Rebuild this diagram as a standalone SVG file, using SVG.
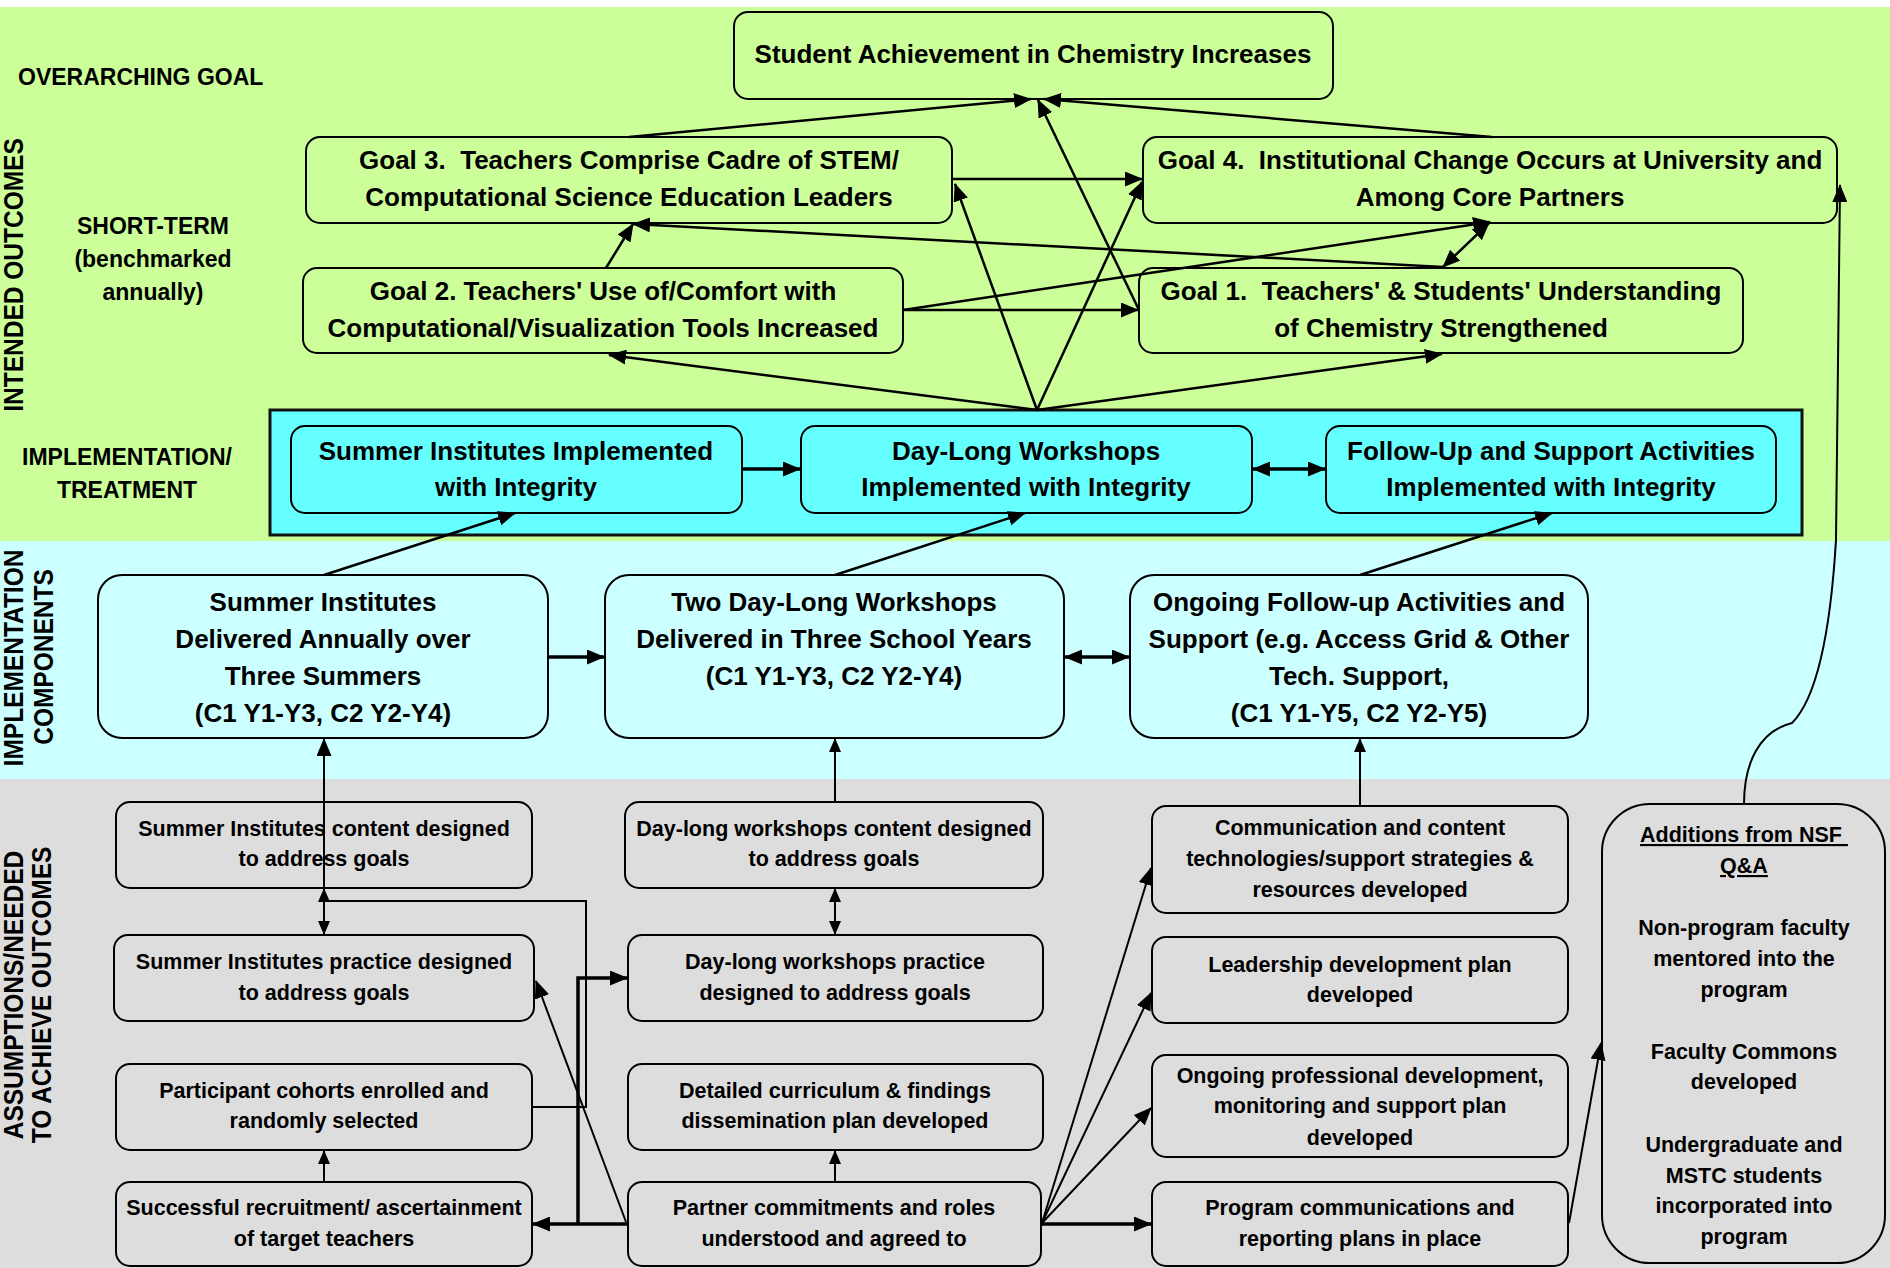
<svg xmlns="http://www.w3.org/2000/svg" width="1890" height="1268" viewBox="0 0 1890 1268">
<defs>
<style>
.t{font-family:"Liberation Sans",Arial,sans-serif;font-weight:bold;fill:#000}
.big{font-size:26px;text-anchor:middle}
.sm{font-size:21.5px;text-anchor:middle}
.lbl{font-size:23px}
.mid{text-anchor:middle}
.vl{font-size:24.5px;text-anchor:middle}
.box{stroke:#000;stroke-width:2}
.gf{fill:#CCFF99}
.cf{fill:#CCFFFF}
.tf{fill:#66FFFF}
.sf{fill:#DDDDDD}
.ln{fill:none;stroke:#000;stroke-width:2.5}
.thin{fill:none;stroke:#000;stroke-width:2}
.thick{fill:none;stroke:#000;stroke-width:3.5}
.a{marker-end:url(#ah)}
.d{marker-start:url(#ah);marker-end:url(#ah)}
.as{marker-end:url(#ahs)}
.ds{marker-start:url(#ahs);marker-end:url(#ahs)}
</style>
<marker id="ah" markerUnits="userSpaceOnUse" markerWidth="18" markerHeight="15" refX="17" refY="7.5" orient="auto-start-reverse" viewBox="0 0 18 15">
<path d="M0,0 L18,7.5 L0,15 z" fill="#000"/>
</marker>
<marker id="ahs" markerUnits="userSpaceOnUse" markerWidth="14" markerHeight="12" refX="13" refY="6" orient="auto-start-reverse" viewBox="0 0 14 12">
<path d="M0,0 L14,6 L0,12 z" fill="#000"/>
</marker>
</defs>

<g id="bands">
<rect x="0" y="0" width="1890" height="1268" fill="#FFFFFF"/>
<rect x="0" y="7" width="1890" height="534" class="gf"/>
<rect x="0" y="541" width="1890" height="238" class="cf"/>
<rect x="0" y="779" width="1890" height="489" class="sf"/>
</g>

<g id="labels">
<text class="t lbl" x="18" y="85">OVERARCHING GOAL</text>
<text class="t lbl mid" x="153" y="234">SHORT-TERM</text>
<text class="t lbl mid" x="153" y="267">(benchmarked</text>
<text class="t lbl mid" x="153" y="300">annually)</text>
<text class="t lbl mid" x="127" y="465">IMPLEMENTATION/</text>
<text class="t lbl mid" x="127" y="498">TREATMENT</text>
<text class="t vl" transform="translate(23,275) rotate(-90) scale(1,1.14)">INTENDED OUTCOMES</text>
<text class="t vl" transform="translate(23,658) rotate(-90) scale(1,1.14)">IMPLEMENTATION</text>
<text class="t vl" transform="translate(53,657) rotate(-90) scale(1,1.14)">COMPONENTS</text>
<text class="t vl" transform="translate(23,995) rotate(-90) scale(1,1.14)">ASSUMPTIONS/NEEDED</text>
<text class="t vl" transform="translate(51,995) rotate(-90) scale(1,1.14)">TO ACHIEVE OUTCOMES</text>
</g>

<g id="treatment-container">
<rect x="270" y="410" width="1532" height="125" class="tf" stroke="#111" stroke-width="3"/>
</g>

<g id="n-student-achievement">
<rect x="734" y="12" width="599" height="87" rx="14" class="box gf"/>
<text class="t big" x="1033" y="63">Student Achievement in Chemistry Increases</text>
</g>
<g id="n-goal3">
<rect x="306" y="137" width="646" height="86" rx="14" class="box gf"/>
<text class="t big" x="629" y="169">Goal 3.&#160; Teachers Comprise Cadre of STEM/</text>
<text class="t big" x="629" y="206">Computational Science Education Leaders</text>
</g>
<g id="n-goal4">
<rect x="1143" y="137" width="694" height="86" rx="14" class="box gf"/>
<text class="t big" x="1490" y="169">Goal 4.&#160; Institutional Change Occurs at University and</text>
<text class="t big" x="1490" y="206">Among Core Partners</text>
</g>
<g id="n-goal2">
<rect x="303" y="268" width="600" height="85" rx="14" class="box gf"/>
<text class="t big" x="603" y="300">Goal 2. Teachers' Use of/Comfort with</text>
<text class="t big" x="603" y="337">Computational/Visualization Tools Increased</text>
</g>
<g id="n-goal1">
<rect x="1139" y="268" width="604" height="85" rx="14" class="box gf"/>
<text class="t big" x="1441" y="300">Goal 1.&#160; Teachers' &amp; Students' Understanding</text>
<text class="t big" x="1441" y="337">of Chemistry Strengthened</text>
</g>

<g id="n-si-implemented">
<rect x="291" y="426" width="451" height="87" rx="14" class="box tf"/>
<text class="t big" x="516" y="460">Summer Institutes Implemented</text>
<text class="t big" x="516" y="496">with Integrity</text>
</g>
<g id="n-dl-implemented">
<rect x="801" y="426" width="451" height="87" rx="14" class="box tf"/>
<text class="t big" x="1026" y="460">Day-Long Workshops</text>
<text class="t big" x="1026" y="496">Implemented with Integrity</text>
</g>
<g id="n-fu-implemented">
<rect x="1326" y="426" width="450" height="87" rx="14" class="box tf"/>
<text class="t big" x="1551" y="460">Follow-Up and Support Activities</text>
<text class="t big" x="1551" y="496">Implemented with Integrity</text>
</g>

<g id="n-si-delivered">
<rect x="98" y="575" width="450" height="163" rx="24" class="box cf"/>
<text class="t big" x="323" y="611">Summer Institutes</text>
<text class="t big" x="323" y="648">Delivered Annually over</text>
<text class="t big" x="323" y="685">Three Summers</text>
<text class="t big" x="323" y="722">(C1 Y1-Y3, C2 Y2-Y4)</text>
</g>
<g id="n-dl-delivered">
<rect x="605" y="575" width="459" height="163" rx="24" class="box cf"/>
<text class="t big" x="834" y="611">Two Day-Long Workshops</text>
<text class="t big" x="834" y="648">Delivered in Three School Years</text>
<text class="t big" x="834" y="685">(C1 Y1-Y3, C2 Y2-Y4)</text>
</g>
<g id="n-fu-delivered">
<rect x="1130" y="575" width="458" height="163" rx="24" class="box cf"/>
<text class="t big" x="1359" y="611">Ongoing Follow-up Activities and</text>
<text class="t big" x="1359" y="648">Support (e.g. Access Grid &amp; Other</text>
<text class="t big" x="1359" y="685">Tech. Support,</text>
<text class="t big" x="1359" y="722">(C1 Y1-Y5, C2 Y2-Y5)</text>
</g>

<g id="n-si-content">
<rect x="116" y="802" width="416" height="86" rx="14" class="box sf"/>
<text class="t sm" x="324" y="836">Summer Institutes content designed</text>
<text class="t sm" x="324" y="866">to address goals</text>
</g>
<g id="n-si-practice">
<rect x="114" y="935" width="420" height="86" rx="14" class="box sf"/>
<text class="t sm" x="324" y="969">Summer Institutes practice designed</text>
<text class="t sm" x="324" y="1000">to address goals</text>
</g>
<g id="n-cohorts">
<rect x="116" y="1064" width="416" height="86" rx="14" class="box sf"/>
<text class="t sm" x="324" y="1098">Participant cohorts enrolled and</text>
<text class="t sm" x="324" y="1128">randomly selected</text>
</g>
<g id="n-recruitment">
<rect x="116" y="1182" width="416" height="84" rx="14" class="box sf"/>
<text class="t sm" x="324" y="1215">Successful recruitment/ ascertainment</text>
<text class="t sm" x="324" y="1246">of target teachers</text>
</g>

<g id="n-dl-content">
<rect x="625" y="802" width="418" height="86" rx="14" class="box sf"/>
<text class="t sm" x="834" y="836">Day-long workshops content designed</text>
<text class="t sm" x="834" y="866">to address goals</text>
</g>
<g id="n-dl-practice">
<rect x="628" y="935" width="415" height="86" rx="14" class="box sf"/>
<text class="t sm" x="835" y="969">Day-long workshops practice</text>
<text class="t sm" x="835" y="1000">designed to address goals</text>
</g>
<g id="n-curriculum">
<rect x="628" y="1064" width="415" height="86" rx="14" class="box sf"/>
<text class="t sm" x="835" y="1098">Detailed curriculum &amp; findings</text>
<text class="t sm" x="835" y="1128">dissemination plan developed</text>
</g>
<g id="n-partner">
<rect x="628" y="1182" width="413" height="84" rx="14" class="box sf"/>
<text class="t sm" x="834" y="1215">Partner commitments and roles</text>
<text class="t sm" x="834" y="1246">understood and agreed to</text>
</g>

<g id="n-communication">
<rect x="1152" y="806" width="416" height="107" rx="14" class="box sf"/>
<text class="t sm" x="1360" y="835">Communication and content</text>
<text class="t sm" x="1360" y="866">technologies/support strategies &amp;</text>
<text class="t sm" x="1360" y="897">resources developed</text>
</g>
<g id="n-leadership">
<rect x="1152" y="937" width="416" height="86" rx="14" class="box sf"/>
<text class="t sm" x="1360" y="972">Leadership development plan</text>
<text class="t sm" x="1360" y="1002">developed</text>
</g>
<g id="n-prof-dev">
<rect x="1152" y="1055" width="416" height="102" rx="14" class="box sf"/>
<text class="t sm" x="1360" y="1083">Ongoing professional development,</text>
<text class="t sm" x="1360" y="1113">monitoring and support plan</text>
<text class="t sm" x="1360" y="1145">developed</text>
</g>
<g id="n-program-comm">
<rect x="1152" y="1182" width="416" height="84" rx="14" class="box sf"/>
<text class="t sm" x="1360" y="1215">Program communications and</text>
<text class="t sm" x="1360" y="1246">reporting plans in place</text>
</g>

<g id="n-nsf-additions">
<rect x="1602" y="804" width="283" height="459" rx="48" class="box sf"/>
<text class="t sm" x="1744" y="842" text-decoration="underline">Additions from NSF&#160;</text>
<text class="t sm" x="1744" y="873" text-decoration="underline">Q&amp;A</text>
<text class="t sm" x="1744" y="935">Non-program faculty</text>
<text class="t sm" x="1744" y="966">mentored into the</text>
<text class="t sm" x="1744" y="997">program</text>
<text class="t sm" x="1744" y="1059">Faculty Commons</text>
<text class="t sm" x="1744" y="1089">developed</text>
<text class="t sm" x="1744" y="1152">Undergraduate and</text>
<text class="t sm" x="1744" y="1183">MSTC students</text>
<text class="t sm" x="1744" y="1213">incorporated into</text>
<text class="t sm" x="1744" y="1244">program</text>
</g>

<g id="connectors">
<line class="ln a" x1="629" y1="137" x2="1031" y2="99"/>
<line class="ln a" x1="1492" y1="137" x2="1044" y2="99"/>
<line class="ln a" x1="1139" y1="310" x2="1038" y2="100"/>
<line class="ln a" x1="1037" y1="410" x2="955" y2="184"/>
<line class="ln a" x1="1037" y1="410" x2="1142" y2="182"/>
<line class="ln a" x1="953" y1="179" x2="1142" y2="179"/>
<line class="ln a" x1="903" y1="310" x2="1138" y2="310"/>
<line class="ln a" x1="903" y1="310" x2="1490" y2="222"/>
<line class="ln a" x1="1443" y1="267" x2="633" y2="224"/>
<line class="ln a" x1="606" y1="268" x2="633" y2="224"/>
<line class="ln d" x1="1443" y1="267" x2="1489" y2="223"/>
<line class="ln a" x1="1037" y1="410" x2="609" y2="355"/>
<line class="ln a" x1="1037" y1="410" x2="1442" y2="354"/>
<line class="thick a" x1="742" y1="469" x2="800" y2="469"/>
<line class="thick d" x1="1253" y1="469" x2="1325" y2="469"/>
<line class="ln a" x1="324" y1="575" x2="515" y2="513"/>
<line class="ln a" x1="835" y1="575" x2="1025" y2="513"/>
<line class="ln a" x1="1360" y1="575" x2="1552" y2="513"/>
<line class="thick a" x1="548" y1="657" x2="604" y2="657"/>
<line class="thick d" x1="1065" y1="657" x2="1129" y2="657"/>
<path class="thin a" d="M532,1107 L586,1107 L586,901 L324,901 L324,739"/>
<line class="thin ds" x1="324" y1="889" x2="324" y2="934"/>
<line class="thin as" x1="324" y1="1182" x2="324" y2="1151"/>
<line class="thick a" x1="628" y1="1224" x2="533" y2="1224"/>
<path class="thick a" d="M578,1224 L578,978 L627,978"/>
<line class="thin a" x1="626" y1="1222" x2="536" y2="981"/>
<line class="thin ds" x1="835" y1="889" x2="835" y2="934"/>
<line class="thin as" x1="835" y1="1182" x2="835" y2="1151"/>
<line class="thin as" x1="835" y1="802" x2="835" y2="739"/>
<line class="thin as" x1="1360" y1="806" x2="1360" y2="739"/>
<line class="thin a" x1="1042" y1="1223" x2="1151" y2="868"/>
<line class="thin a" x1="1042" y1="1223" x2="1151" y2="993"/>
<line class="thin a" x1="1042" y1="1223" x2="1151" y2="1108"/>
<line class="thick a" x1="1041" y1="1224" x2="1151" y2="1224"/>
<line class="thin a" x1="1569" y1="1223" x2="1601" y2="1043"/>
<path class="thin a" d="M1744,804 C1744,762 1760,731 1792,723 C1815,700 1830,640 1836,540 L1840,185"/>
</g>
</svg>
